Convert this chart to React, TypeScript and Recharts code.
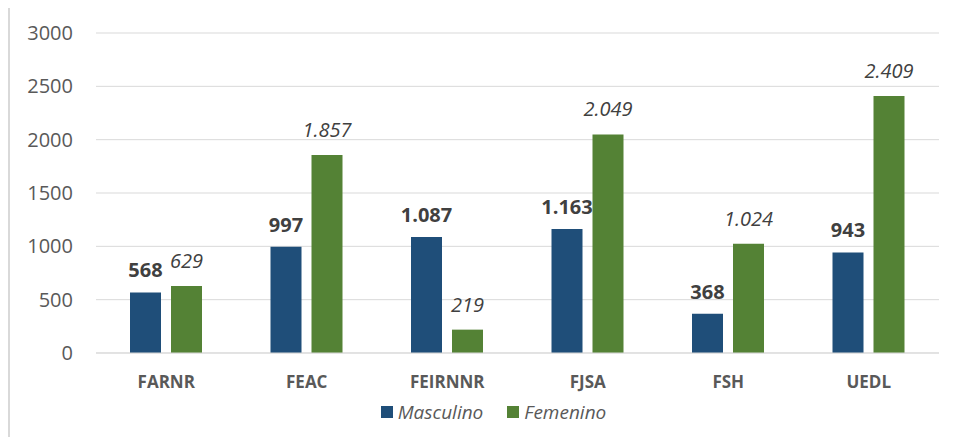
import { BarChart, Bar, XAxis, YAxis, CartesianGrid, Legend, LabelList } from 'recharts'

const categories = ['FARNR', 'FEAC', 'FEIRNNR', 'FJSA', 'FSH', 'UEDL']
const masculino = [568, 997, 1087, 1163, 368, 943]
const femenino = [629, 1857, 219, 2049, 1024, 2409]
const yTicks = [0, 500, 1000, 1500, 2000, 2500, 3000]

const BLUE = '#1F4E79'
const GREEN = '#548235'
const FONT = '"Open Sans", sans-serif'

// 1087 -> "1.087" like the spanish excel source
const fmt = (v: number) => {
  const s = String(v)
  return s.length > 3 ? s.slice(0, s.length - 3) + '.' + s.slice(-3) : s
}

const data = categories.map((c, i) => ({
  name: c,
  Masculino: masculino[i],
  Femenino: femenino[i],
}))

function LegendBox() {
  const items = [
    { label: 'Masculino', color: BLUE },
    { label: 'Femenino', color: GREEN },
  ]
  return (
    <div style={{ height: 30, display: 'flex', justifyContent: 'center', alignItems: 'center', gap: 24, paddingLeft: 38 }}>
      {items.map((it) => (
        <div key={it.label} style={{ display: 'flex', alignItems: 'center' }}>
          <span style={{ width: 12, height: 12, background: it.color, display: 'inline-block', marginRight: 5 }} />
          <span style={{ fontFamily: FONT, fontStyle: 'italic', fontSize: 19, color: '#595959' }}>{it.label}</span>
        </div>
      ))}
    </div>
  )
}

export default function App() {
  return (
    <div style={{ width: 960, height: 440, marginTop: -4, border: '2px solid #d9d9d9', boxSizing: 'border-box', background: '#fff' }}>
      <BarChart width={946} height={430} data={data} margin={{ top: 27, right: 17, left: 0, bottom: 9 }} barSize={31} barGap={10}>
        <CartesianGrid vertical={false} stroke="#d9d9d9" />
        <XAxis
          dataKey="name" height={44} tickSize={0} tickMargin={23}
          axisLine={{ stroke: '#d9d9d9' }} tickLine={false}
          tick={{ fill: '#595959', fontSize: 17, fontWeight: 700, fontFamily: FONT }}
        />
        <YAxis
          width={86} domain={[0, 3000]} ticks={yTicks} tickSize={0} tickMargin={23}
          axisLine={false} tickLine={false}
          tick={{ fill: '#595959', fontSize: 20, fontFamily: FONT }}
        />
        <Legend verticalAlign="bottom" content={() => <LegendBox />} />
        <Bar dataKey="Masculino" fill={BLUE} isAnimationActive={false}>
          <LabelList
            dataKey="Masculino" position="top" offset={15} formatter={(v: number) => fmt(v)}
            fill="#404040" fontSize={20} fontWeight={700} fontFamily={FONT}
          />
        </Bar>
        <Bar dataKey="Femenino" fill={GREEN} isAnimationActive={false}>
          <LabelList
            dataKey="Femenino" position="top" offset={18} formatter={(v: number) => fmt(v)}
            fill="#404040" fontSize={20} fontStyle="italic" fontFamily={FONT}
          />
        </Bar>
      </BarChart>
    </div>
  )
}
